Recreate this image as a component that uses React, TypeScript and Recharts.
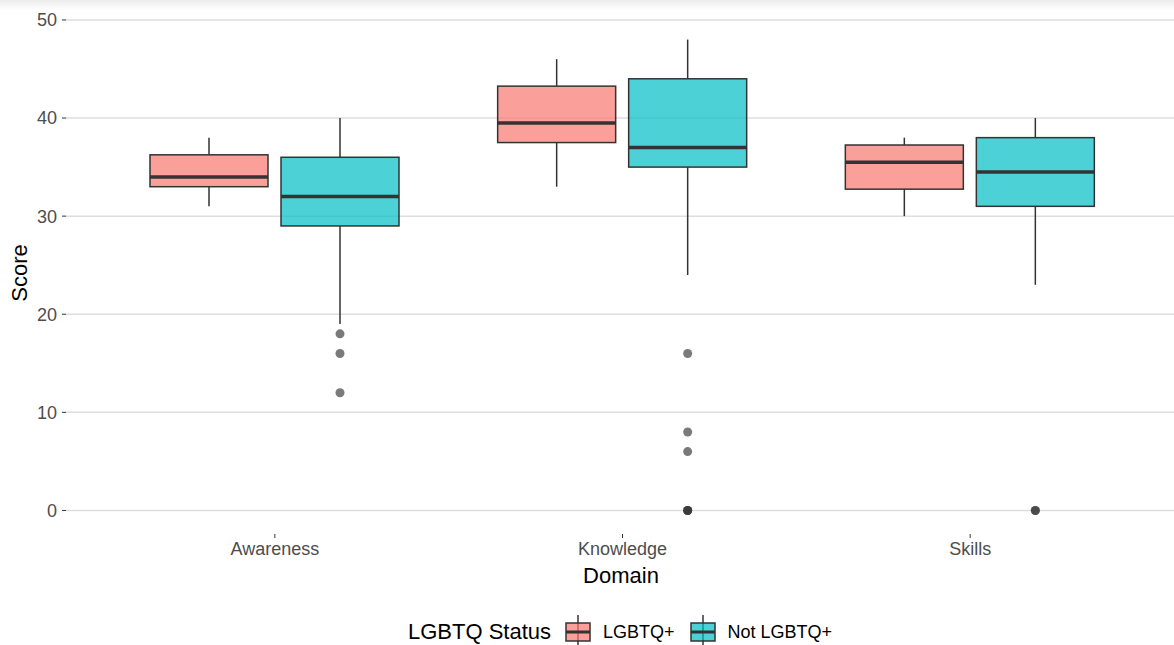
import React from "react";
import { ComposedChart, Bar, XAxis, YAxis, CartesianGrid } from "recharts";

// Five-number summaries per domain, one array per statistic
const domains = ["Awareness", "Knowledge", "Skills"];

const lgbtMin = [31, 33, 30];
const lgbtQ1 = [33, 37.5, 32.75];
const lgbtMedian = [34, 39.5, 35.5];
const lgbtQ3 = [36.25, 43.25, 37.25];
const lgbtMax = [38, 46, 38];
const lgbtOutliers: number[][] = [[], [], []];

const otherMin = [19, 24, 23];
const otherQ1 = [29, 35, 31];
const otherMedian = [32, 37, 34.5];
const otherQ3 = [36, 44, 38];
const otherMax = [40, 48, 40];
const otherOutliers: number[][] = [[18, 16, 12], [16, 8, 6, 0, 0, 0], [0, 0]];

const yTicks = [0, 10, 20, 30, 40, 50];

const series = [
  { key: "lgbt", label: "LGBTQ+", color: "#F8766D" },
  { key: "other", label: "Not LGBTQ+", color: "#00BFC4" },
];

interface BoxStats {
  min: number;
  q1: number;
  median: number;
  q3: number;
  max: number;
  outliers: number[];
}

interface Row {
  domain: string;
  lgbt: BoxStats;
  other: BoxStats;
}

const rows: Row[] = domains.map((domain, i) => ({
  domain,
  lgbt: {
    min: lgbtMin[i],
    q1: lgbtQ1[i],
    median: lgbtMedian[i],
    q3: lgbtQ3[i],
    max: lgbtMax[i],
    outliers: lgbtOutliers[i],
  },
  other: {
    min: otherMin[i],
    q1: otherQ1[i],
    median: otherMedian[i],
    q3: otherQ3[i],
    max: otherMax[i],
    outliers: otherOutliers[i],
  },
}));

const FONT = "'Liberation Sans', Arial, sans-serif";
const INK = "#333333";

// The bar spans q1..q3; whiskers, median and outliers reuse its pixel scale
const makeBoxShape = (key: "lgbt" | "other", color: string) => (props: any) => {
  const { x, y, width, height, payload } = props;
  const s: BoxStats = payload[key];
  const top = Math.min(y, y + height);
  const bottom = Math.max(y, y + height);
  const k = (bottom - top) / (s.q3 - s.q1);
  const toPx = (v: number) => bottom - (v - s.q1) * k;
  const cx = x + width / 2;
  return (
    <g>
      <line x1={cx} x2={cx} y1={toPx(s.max)} y2={top} stroke={INK} strokeWidth={1.5} />
      <line x1={cx} x2={cx} y1={bottom} y2={toPx(s.min)} stroke={INK} strokeWidth={1.5} />
      <rect
        x={x}
        y={top}
        width={width}
        height={bottom - top}
        fill={color}
        fillOpacity={0.7}
        stroke={INK}
        strokeWidth={1.5}
      />
      <line
        x1={x}
        x2={x + width}
        y1={toPx(s.median)}
        y2={toPx(s.median)}
        stroke={INK}
        strokeWidth={3.5}
      />
      {s.outliers.map((v, i) => (
        <circle key={i} cx={cx} cy={toPx(v)} r={4.5} fill={INK} fillOpacity={0.65} />
      ))}
    </g>
  );
};

const ScoreLabel = () => (
  <text
    x={27}
    y={273}
    transform="rotate(-90 27 273)"
    textAnchor="middle"
    fontFamily={FONT}
    fontSize={22}
    fill="#000"
  >
    Score
  </text>
);

const DomainLabel = () => (
  <text x={621} y={583} textAnchor="middle" fontFamily={FONT} fontSize={22} fill="#000">
    Domain
  </text>
);

const LegendIcon = ({ color }: { color: string }) => (
  <svg width={28} height={34} style={{ display: "block" }}>
    <line x1={14} x2={14} y1={0} y2={34} stroke={INK} strokeWidth={1.5} />
    <rect x={2} y={8} width={24} height={18} fill={color} fillOpacity={0.7} stroke={INK} strokeWidth={1.5} />
    <line x1={2} x2={26} y1={17} y2={17} stroke={INK} strokeWidth={3} />
  </svg>
);

export default function App() {
  return (
    <div
      style={{
        position: "absolute",
        left: 0,
        top: 0,
        width: 1174,
        height: 645,
        background: "#fff",
        fontFamily: FONT,
        overflow: "hidden",
      }}
    >
      <div
        style={{
          position: "absolute",
          left: 0,
          top: 0,
          width: 1174,
          height: 10,
          background: "linear-gradient(#ececec, #ffffff)",
        }}
      />
      <ComposedChart
        width={1174}
        height={645}
        data={rows}
        margin={{ top: 16, right: 0, bottom: 0, left: 0 }}
        barGap={13}
      >
        <CartesianGrid
          vertical={false}
          horizontalValues={yTicks}
          stroke="#dedede"
          strokeWidth={1.5}
        />
        <XAxis
          dataKey="domain"
          height={111}
          padding={{ left: 35, right: 30 }}
          axisLine={false}
          tickSize={4}
          tickMargin={4}
          tickLine={{ stroke: INK }}
          tick={{ fill: "#4d4d4d", fontSize: 18, fontFamily: FONT }}
          label={<DomainLabel />}
        />
        <YAxis
          type="number"
          domain={[-2.4, 50.4]}
          ticks={yTicks}
          allowDataOverflow
          width={66}
          axisLine={false}
          tickSize={4}
          tickMargin={5}
          tickLine={{ stroke: INK }}
          tick={{ fill: "#4d4d4d", fontSize: 18, fontFamily: FONT }}
          label={<ScoreLabel />}
        />
        {series.map((s) => (
          <Bar
            key={s.key}
            dataKey={(r: Row) => [r[s.key as "lgbt" | "other"].q1, r[s.key as "lgbt" | "other"].q3]}
            barSize={118}
            shape={makeBoxShape(s.key as "lgbt" | "other", s.color)}
            isAnimationActive={false}
          />
        ))}
      </ComposedChart>
      <div
        style={{
          position: "absolute",
          left: 408,
          top: 615,
          display: "flex",
          alignItems: "center",
          color: "#000",
          whiteSpace: "nowrap",
        }}
      >
        <span style={{ fontSize: 22, marginRight: 13 }}>LGBTQ Status</span>
        {series.map((s) => (
          <div key={s.key} style={{ display: "flex", alignItems: "center", marginRight: 14 }}>
            <LegendIcon color={s.color} />
            <span style={{ fontSize: 18, marginLeft: 11 }}>{s.label}</span>
          </div>
        ))}
      </div>
    </div>
  );
}
